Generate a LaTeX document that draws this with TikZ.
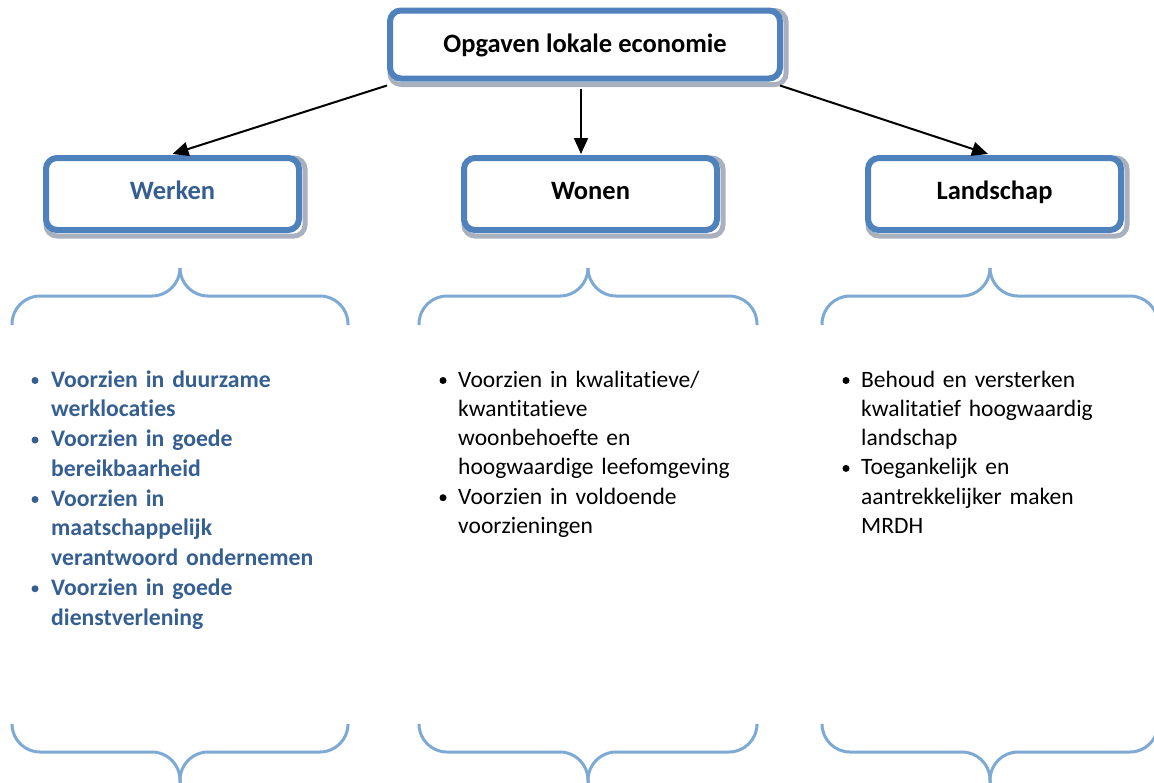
\documentclass[tikz,border=0pt]{standalone}
\usepackage{fontspec}
\setmainfont{Carlito}[Ligatures=NoCommon]
\usetikzlibrary{arrows.meta,backgrounds}
\definecolor{boxblue}{HTML}{4F81BD}
\definecolor{darkblue}{HTML}{365F91}
\definecolor{bracecol}{HTML}{7EA9D3}
\definecolor{shadowgray}{HTML}{A9B1BE}
\begin{document}
\begin{tikzpicture}[x=1pt,y=-1pt,
  box/.style={draw=boxblue, line width=6pt, fill=white, rounded corners=11pt,
    minimum width=253pt, minimum height=72pt, inner sep=0pt,
    text height=18pt, text depth=7pt,
    font=\fontsize{26.5}{30}\selectfont\bfseries},
  boxshadow/.style={draw=shadowgray, line width=5pt, rounded corners=11pt},
  arr/.style={-{Triangle[length=16pt,width=14pt]}, line width=2pt},
  brace/.style={draw=bracecol, line width=3pt, rounded corners=28pt},
  item/.style={anchor=base west, inner sep=0pt,
    text width=320pt, font=\fontsize{23.5}{29.3}\selectfont\raggedright},
  witem/.style={item, text=darkblue, font=\fontsize{23.7}{29.75}\selectfont\bfseries\raggedright},
  dot/.style={circle, fill, inner sep=0pt, minimum size=7pt}
]
\useasboundingbox (0,0) rectangle (1154,782);

% boxes
\node[box, minimum width=390pt, minimum height=68pt, text depth=2pt] (top) at (585,44.5) {Opgaven lokale economie};
\node[box, text=darkblue] (werken) at (172.5,194) {Werken};
\node[box] (wonen) at (590.5,194) {Wonen};
\node[box] (landschap) at (994.5,194) {Landschap};

% drop shadows behind the boxes
\begin{scope}[on background layer]
  \foreach \b in {top,werken,wonen,landschap}
    \draw[boxshadow] ([shift={(3,3)}]\b.north west) rectangle ([shift={(3,3)}]\b.south east);
\end{scope}

% connectors
\coordinate (ms) at ([shift={(-4,7)}]top.south);
\draw[arr] ([shift={(0,4)}]top.south west) -- ([shift={(0,-1)}]werken.north);
\draw[arr] (ms) -- ([shift={(0,-1)}]ms |- wonen.north);
\draw[arr] ([shift={(-3,4)}]top.south east) -- ([shift={(-6.5,-1)}]landschap.north);

% braces above the lists
\draw[brace] (12,325) |- (180,296) -- (180,268);
\draw[brace] (348,325) |- (180,296) -- (180,268);
\draw[brace] (419,325) |- (588,296) -- (588,268);
\draw[brace] (757,325) |- (588,296) -- (588,268);
\draw[brace] (822,325) |- (990,296) -- (990,268);
\draw[brace] (1158,325) |- (990,296) -- (990,268);

% braces below the lists
\draw[brace] (12,725) |- (180,752) -- (180,784);
\draw[brace] (348,725) |- (180,752) -- (180,784);
\draw[brace] (419,725) |- (588,752) -- (588,784);
\draw[brace] (757,725) |- (588,752) -- (588,784);
\draw[brace] (822,725) |- (990,752) -- (990,784);
\draw[brace] (1158,725) |- (990,752) -- (990,784);

% Werken
\node[witem] (w1) at (51,387) {Voorzien in duurzame\\werklocaties};
\node[witem] (w2) at (51,446.5) {Voorzien in goede\\bereikbaarheid};
\node[witem] (w3) at (51,506) {Voorzien in\\maatschappelijk\\verantwoord ondernemen};
\node[witem] (w4) at (51,595.25) {Voorzien in goede\\dienstverlening};
\foreach \n in {w1,w2,w3,w4}
  \node[dot, fill=darkblue] at ([shift={(-16,-6.5)}]\n.base west) {};

% Wonen
\node[item] (m1) at (458,387) {Voorzien in kwalitatieve/\\kwantitatieve\\woonbehoefte en\\hoogwaardige leefomgeving};
\node[item] (m2) at (458,504.2) {Voorzien in voldoende\\voorzieningen};
\foreach \n in {m1,m2}
  \node[dot] at ([shift={(-15,-6.5)}]\n.base west) {};

% Landschap
\node[item] (l1) at (861,387) {Behoud en versterken\\kwalitatief hoogwaardig\\landschap};
\node[item] (l2) at (861,474.9) {Toegankelijk en\\aantrekkelijker maken\\MRDH};
\foreach \n in {l1,l2}
  \node[dot] at ([shift={(-15,-6.5)}]\n.base west) {};
\end{tikzpicture}
\end{document}
